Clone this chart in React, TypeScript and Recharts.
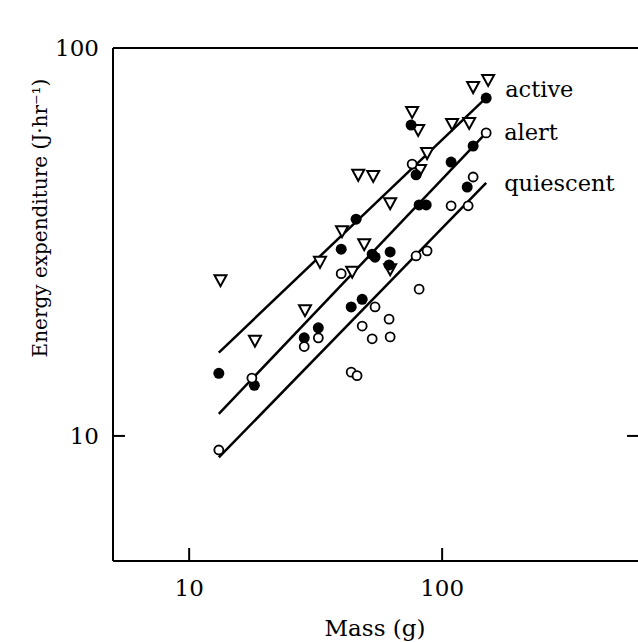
import React from "react";
import { ScatterChart, Scatter, XAxis, YAxis } from "recharts";

// values: mass (g) vs energy expenditure (J/hr)
const activeData = [
  { x: 13.3, y: 25.2 }, { x: 18.2, y: 17.6 }, { x: 28.7, y: 21.1 }, { x: 32.9, y: 28.1 },
  { x: 40.2, y: 33.7 }, { x: 44.1, y: 26.5 }, { x: 46.6, y: 47.1 }, { x: 49.2, y: 31.2 },
  { x: 53.4, y: 46.8 }, { x: 62.3, y: 39.8 }, { x: 62.3, y: 26.9 }, { x: 76.1, y: 68.4 },
  { x: 80.4, y: 61.5 }, { x: 81.8, y: 48.5 }, { x: 87.2, y: 53.6 }, { x: 109.5, y: 63.7 },
  { x: 127.9, y: 64.1 }, { x: 132.6, y: 79.3 }, { x: 152.0, y: 82.7 },
];

const alertData = [
  { x: 13.1, y: 14.5 }, { x: 18.1, y: 13.5 }, { x: 28.5, y: 17.9 }, { x: 32.4, y: 19.0 },
  { x: 39.9, y: 30.3 }, { x: 45.7, y: 36.2 }, { x: 43.7, y: 21.5 }, { x: 48.3, y: 22.5 },
  { x: 52.9, y: 29.4 }, { x: 54.3, y: 28.9 }, { x: 62.3, y: 29.8 }, { x: 61.7, y: 27.6 },
  { x: 75.4, y: 63.3 }, { x: 78.9, y: 47.1 }, { x: 81.1, y: 39.4 }, { x: 86.5, y: 39.4 },
  { x: 108.5, y: 50.8 }, { x: 125.6, y: 43.8 }, { x: 132.6, y: 55.9 }, { x: 149.3, y: 74.3 },
];

const quiescentData = [
  { x: 13.1, y: 9.2 }, { x: 17.7, y: 14.1 }, { x: 28.5, y: 17.0 }, { x: 32.4, y: 17.9 },
  { x: 39.9, y: 26.2 }, { x: 43.7, y: 14.6 }, { x: 46.1, y: 14.3 }, { x: 48.3, y: 19.2 },
  { x: 52.9, y: 17.8 }, { x: 54.3, y: 21.5 }, { x: 61.7, y: 20.0 }, { x: 62.3, y: 18.0 },
  { x: 76.1, y: 50.2 }, { x: 78.9, y: 29.1 }, { x: 81.1, y: 23.9 }, { x: 87.2, y: 30.0 },
  { x: 108.5, y: 39.2 }, { x: 126.7, y: 39.2 }, { x: 132.6, y: 46.5 }, { x: 149.3, y: 60.4 },
];

// fitted regression lines (end points)
const activeFit = [{ x: 13.1, y: 16.4 }, { x: 150.6, y: 74.8 }];
const alertFit = [{ x: 13.1, y: 11.4 }, { x: 149.3, y: 60.4 }];
const quiescentFit = [{ x: 13.1, y: 8.8 }, { x: 149.3, y: 44.9 }];

const massTicks = [10, 100];
const energyTicks = [10, 100];

const FONT = "'DejaVu Serif', serif";

const Triangle = (p: any) => {
  const { cx, cy } = p;
  return (
    <polygon
      points={`${cx - 6},${cy - 5} ${cx + 6},${cy - 5} ${cx},${cy + 6}`}
      fill="#fff"
      stroke="#000"
      strokeWidth={2}
    />
  );
};

const Dot = (p: any) => <circle cx={p.cx} cy={p.cy} r={5.5} fill="#000" />;

const Ring = (p: any) => (
  <circle cx={p.cx} cy={p.cy} r={4.5} fill="#fff" stroke="#000" strokeWidth={1.8} />
);

// write the series name next to the upper end of each fit line
const endLabel = (text: string, lastX: number, dy: number) => (p: any) =>
  p.payload && p.payload.x === lastX ? (
    <text x={p.cx + 18} y={p.cy + dy} fontFamily={FONT} fontSize={22.5} fill="#000">
      {text}
    </text>
  ) : (
    <g />
  );

const yLabel = () => (
  <text
    x={47}
    y={218}
    transform="rotate(-90, 47, 218)"
    textAnchor="middle"
    fontFamily={FONT}
    fontSize={20}
    fill="#000"
  >
    Energy expenditure (J·hr⁻¹)
  </text>
);

const xLabel = () => (
  <text x={375} y={636} textAnchor="middle" fontFamily={FONT} fontSize={23} fill="#000">
    Mass (g)
  </text>
);

// no text on the top and right axes, only the tick marks
const noText = () => <g />;

const tickStyle = { fill: "#000", fontSize: 23, fontFamily: FONT };
const lineStyle = { stroke: "#000", strokeWidth: 2 };

export default function App() {
  return (
    <div
      style={{
        position: "absolute",
        left: 0,
        top: 0,
        width: 638,
        height: 642,
        overflow: "hidden",
        background: "#fff",
      }}
    >
      <ScatterChart width={648} height={642} margin={{ top: 28, right: 0, bottom: 0, left: 0 }}>
        <XAxis
          xAxisId="b"
          dataKey="x"
          type="number"
          scale="log"
          domain={[5, 600]}
          allowDataOverflow
          ticks={massTicks}
          height={81}
          tickSize={-13}
          tickMargin={32}
          tick={tickStyle}
          axisLine={lineStyle}
          tickLine={lineStyle}
          label={{ content: xLabel }}
        />
        <XAxis
          xAxisId="t"
          orientation="top"
          type="number"
          scale="log"
          domain={[5, 600]}
          allowDataOverflow
          ticks={massTicks}
          height={20}
          tickSize={-13}
          tick={noText}
          axisLine={lineStyle}
          tickLine={lineStyle}
        />
        <YAxis
          yAxisId="l"
          dataKey="y"
          type="number"
          scale="log"
          domain={[4.76, 100]}
          allowDataOverflow
          ticks={energyTicks}
          width={113}
          tickSize={-12}
          tickMargin={26}
          tick={tickStyle}
          axisLine={lineStyle}
          tickLine={lineStyle}
          label={{ content: yLabel }}
        />
        <YAxis
          yAxisId="r"
          orientation="right"
          type="number"
          scale="log"
          domain={[4.76, 100]}
          allowDataOverflow
          ticks={energyTicks}
          width={9}
          tickSize={-12}
          tick={noText}
          axisLine={lineStyle}
          tickLine={lineStyle}
        />

        <Scatter xAxisId="b" yAxisId="l" data={activeFit} line={{ stroke: "#000", strokeWidth: 2.5 }}
          shape={endLabel("active", 150.6, 0)} isAnimationActive={false} />
        <Scatter xAxisId="b" yAxisId="l" data={alertFit} line={{ stroke: "#000", strokeWidth: 2.5 }}
          shape={endLabel("alert", 149.3, 7)} isAnimationActive={false} />
        <Scatter xAxisId="b" yAxisId="l" data={quiescentFit} line={{ stroke: "#000", strokeWidth: 2.5 }}
          shape={endLabel("quiescent", 149.3, 8)} isAnimationActive={false} />

        <Scatter xAxisId="b" yAxisId="l" data={activeData} shape={Triangle} isAnimationActive={false} />
        <Scatter xAxisId="b" yAxisId="l" data={alertData} shape={Dot} isAnimationActive={false} />
        <Scatter xAxisId="b" yAxisId="l" data={quiescentData} shape={Ring} isAnimationActive={false} />
      </ScatterChart>
    </div>
  );
}
